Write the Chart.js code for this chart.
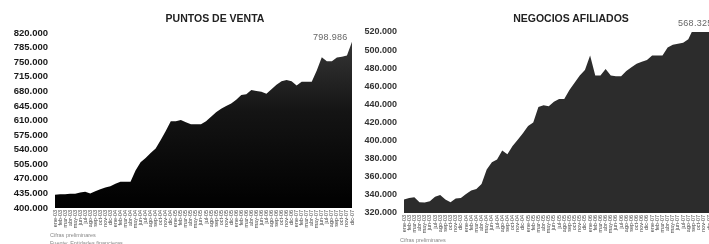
<!DOCTYPE html>
<html>
<head>
<meta charset="utf-8">
<script src="https://cdn.jsdelivr.net/npm/chart.js@4.4.1/dist/chart.umd.min.js"></script>
<style>
body{margin:0;width:709px;height:244px;overflow:hidden;background:#fff;font-family:"Liberation Sans",Arial,sans-serif;position:relative}
.box{position:absolute;top:0;height:244px}
.title{position:absolute;font-weight:bold;font-size:10.5px;color:#222;white-space:nowrap;transform:translateX(-50%)}
.val{position:absolute;font-size:9px;color:#666;white-space:nowrap;letter-spacing:0.3px}
.note{position:absolute;font-size:5.5px;color:#888;white-space:nowrap}
</style>
</head>
<body>
<div class="box" style="left:0;width:356px"><canvas id="puntos" width="356" height="244"></canvas></div>
<div class="box" style="left:356px;width:353px"><canvas id="negocios" width="353" height="244"></canvas></div>

<div class="title" style="left:215px;top:12px">PUNTOS DE VENTA</div>
<div class="title" style="left:571px;top:12px">NEGOCIOS AFILIADOS</div>
<div class="val" id="valPuntos" style="left:313px;top:32px"></div>
<div class="val" id="valNegocios" style="left:678px;top:18px"></div>
<div class="note" style="left:50px;top:232px">Cifras preliminares</div>
<div class="note" style="left:50px;top:240px">Fuente: Entidades financieras</div>
<div class="note" style="left:400px;top:237px">Cifras preliminares</div>

<script>
const months = ["ene", "feb", "mar", "abr", "may", "jun", "jul", "ago", "sep", "oct", "nov", "dic"];
const years = ["03", "04", "05", "06", "07"];

const puntos = [432000, 433000, 433000, 434000, 434000, 437000, 439000, 435000, 440000, 445000,
  449000, 452000, 458000, 463000, 463000, 463000, 490000, 510000, 520000, 532000,
  543000, 563000, 585000, 608000, 608000, 611000, 606000, 601000, 601000, 601000,
  608000, 619000, 630000, 638000, 645000, 651000, 660000, 671000, 673000, 683000,
  681000, 679000, 674000, 685000, 696000, 704000, 707000, 704000, 694000, 703000,
  703000, 703000, 730000, 762000, 752000, 752000, 761000, 763000, 766000, 798986];

const negocios = [335000, 336500, 337500, 332000, 331500, 333000, 338000, 340000, 335000, 332000,
  336000, 336500, 341000, 345000, 346500, 352000, 368000, 376000, 379000, 389000,
  385000, 394000, 401000, 408000, 416000, 420000, 437000, 439000, 438000, 443000,
  446000, 446000, 456000, 464000, 472000, 478000, 494000, 472000, 472000, 479000,
  472000, 471000, 471000, 477000, 481000, 485000, 487000, 489000, 494000, 494000,
  494000, 503000, 506000, 507000, 508000, 512000, 524000, 535000, 550000, 568325];

let labels = [];
for (let y = 0; y < years.length; y++) {
  for (let m = 0; m < months.length; m++) {
    labels.push(months[m] + "-" + years[y]);
  }
}

function fmt(v) {
  return String(Math.round(v)).replace(/\B(?=(\d{3})+(?!\d))/g, ".");
}

function darkFill(context) {
  const area = context.chart.chartArea;
  if (!area) return "#111";
  const g = context.chart.ctx.createLinearGradient(0, area.top, 0, area.bottom);
  g.addColorStop(0, "#3a3a3a");
  g.addColorStop(0.45, "#141414");
  g.addColorStop(1, "#000");
  return g;
}

function makeChart(id, data, fill, yMin, yMax, step, yWidth, yFont, yColor, pad) {
  return new Chart(document.getElementById(id), {
    type: "line",
    data: {
      labels: labels,
      datasets: [{
        data: data,
        fill: "start",
        backgroundColor: fill,
        borderColor: "rgba(0,0,0,0)",
        borderWidth: 0,
        pointRadius: 0,
        tension: 0
      }]
    },
    options: {
      responsive: false,
      animation: false,
      layout: { padding: pad },
      plugins: { legend: { display: false }, tooltip: { enabled: false } },
      scales: {
        x: {
          grid: { display: false, drawTicks: false },
          border: { display: false },
          ticks: {
            autoSkip: false, minRotation: 90, maxRotation: 90,
            font: { size: 5.5, family: "Liberation Sans" }, color: "#444", padding: 2
          },
          afterFit: function(s) { s.height = 24; s.paddingLeft = 0; s.paddingRight = 0; }
        },
        y: {
          min: yMin,
          max: yMax,
          grid: { display: false, drawTicks: false },
          border: { display: false },
          ticks: {
            stepSize: step,
            callback: function(v) { return fmt(v); },
            font: { size: yFont, weight: "bold", family: "Liberation Sans" },
            color: yColor,
            padding: 7
          },
          afterFit: function(s) { s.width = yWidth; }
        }
      }
    }
  });
}

makeChart("puntos", puntos, darkFill, 400000, 820000, 35000, 55, 9.5, "#1a1a1a",
  { left: 0, top: 33, right: 4, bottom: 12 });
makeChart("negocios", negocios, "#2c2c2c", 320000, 520000, 20000, 48, 9, "#333",
  { left: 0, top: 32, right: 0, bottom: 7 });

document.getElementById("valPuntos").textContent = fmt(puntos[puntos.length - 1]);
document.getElementById("valNegocios").textContent = fmt(negocios[negocios.length - 1]);
</script>
</body>
</html>
